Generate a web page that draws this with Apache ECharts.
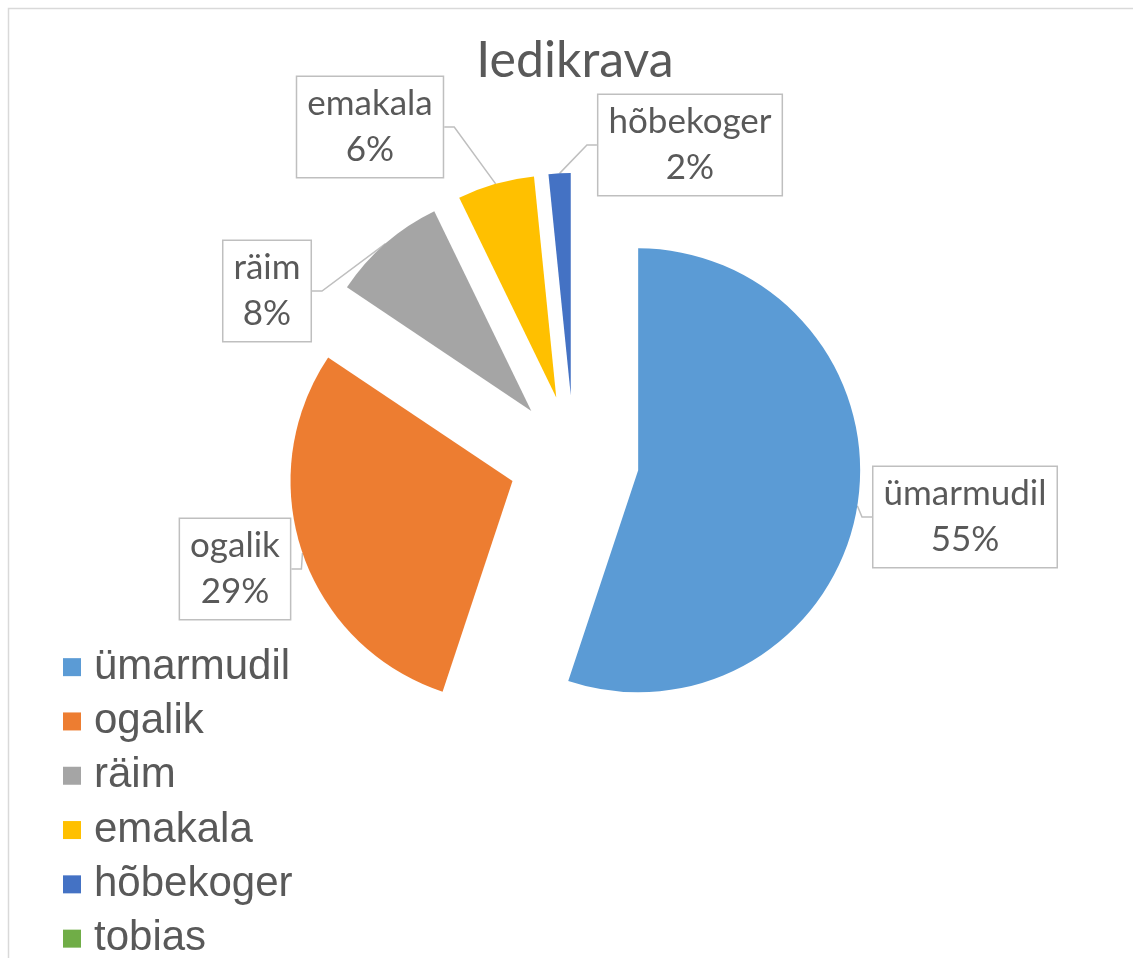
<!DOCTYPE html>
<html>
<head>
<meta charset="utf-8">
<script src="https://cdn.jsdelivr.net/npm/echarts@6/dist/echarts.min.js"></script>
<style>
  html, body { margin: 0; padding: 0; background: #fff; }
  #chart { width: 1133px; height: 958px; }
</style>
</head>
<body>
<div id="chart"></div>
<script>
// andmed
var chartTitle = "Iedikrava";
var categories = ["ümarmudil", "ogalik", "räim", "emakala", "hõbekoger", "tobias"];
var shares = [55.1, 29.3, 8.4, 5.6, 1.6, 0];
var colors = ["#5B9BD5", "#ED7D31", "#A5A5A5", "#FFC000", "#4472C4", "#70AD47"];

// callout box centres (label placement only)
var calloutCenters = [
  [965, 517],
  [235, 569],
  [267, 291],
  [370, 127],
  [690, 145],
  null
];

// exploded pie: every slice is its own pie series pushed out along its mid angle
var pieCenter = [574, 460];
var pieRadius = 222;
var explode = 65;

var chart = echarts.init(document.getElementById("chart"));

var total = shares.reduce(function (a, b) { return a + b; }, 0);
var cum = 0;
var series = categories.map(function (name, i) {
  var v = shares[i];
  var startDeg = (cum / total) * 360; // clockwise from 12 o'clock
  var midRad = ((cum + v / 2) / total) * 2 * Math.PI;
  cum += v;
  var cx = pieCenter[0] + explode * Math.sin(midRad);
  var cy = pieCenter[1] - explode * Math.cos(midRad);
  var spot = calloutCenters[i];
  var hasLabel = v > 0 && spot;
  return {
    type: "pie",
    name: name,
    center: [cx, cy],
    radius: pieRadius,
    startAngle: 90 - startDeg,
    clockwise: true,
    avoidLabelOverlap: false,
    selectedMode: false,
    emphasis: { disabled: true },
    label: {
      show: !!hasLabel,
      position: "outside",
      formatter: function (p) {
        return p.name + "\n" + Math.round(p.percent) + "%";
      },
      fontFamily: "Lato",
      fontSize: 35,
      lineHeight: 46,
      color: "#595959",
      align: "center",
      backgroundColor: "#fff",
      borderColor: "#bfbfbf",
      borderWidth: 1.5,
      padding: [4, 10, 4, 10]
    },
    labelLine: {
      show: !!hasLabel,
      length: 10,
      length2: 10,
      lineStyle: { color: "#bfbfbf", width: 1.5 }
    },
    labelLayout: function () {
      if (!hasLabel) return {};
      return { x: spot[0], y: spot[1], align: "center", verticalAlign: "middle" };
    },
    data: [
      { name: name, value: v, itemStyle: { color: colors[i] } },
      {
        name: "",
        value: total - v,
        itemStyle: { color: "rgba(0,0,0,0)" },
        label: { show: false },
        labelLine: { show: false },
        silent: true,
        tooltip: { show: false }
      }
    ]
  };
});

var option = {
  animation: false,
  backgroundColor: "#fff",
  color: colors,
  graphic: [
    {
      type: "rect",
      left: 6,
      top: 6,
      shape: { width: 1200, height: 1000 },
      style: { fill: "none", stroke: "#d9d9d9", lineWidth: 1.5 },
      silent: true
    }
  ],
  title: {
    text: chartTitle,
    left: 570,
    textAlign: "center",
    top: 31,
    textStyle: {
      fontFamily: "Lato",
      fontWeight: "normal",
      fontSize: 50,
      color: "#595959"
    }
  },
  //legend bottom left
  legend: {
    orient: "vertical",
    left: 63,
    top: 640,
    height: 340,
    padding: 0,
    icon: "rect",
    itemWidth: 18,
    itemHeight: 18,
    itemGap: 0,
    selectedMode: false,
    data: categories,
    textStyle: {
      fontFamily: "Liberation Sans",
      fontSize: 42,
      lineHeight: 54.3,
      color: "#595959",
      padding: [0, 0, 0, 8]
    }
  },
  series: series
};

chart.setOption(option);
</script>
</body>
</html>
